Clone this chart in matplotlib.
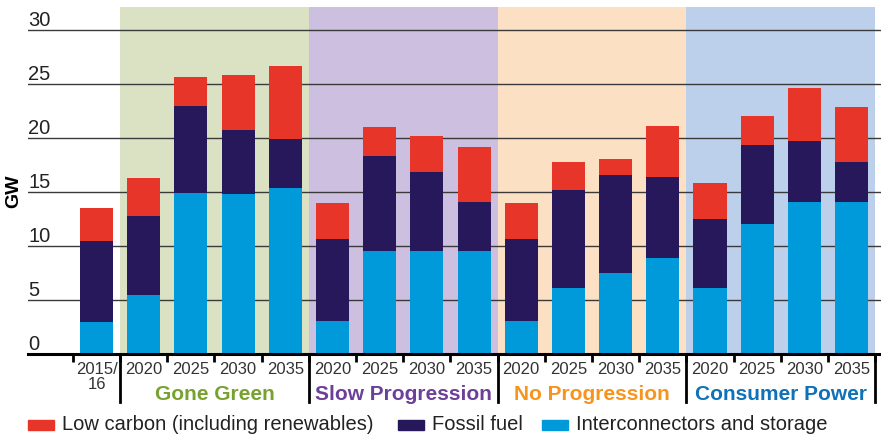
import matplotlib
matplotlib.use("Agg")
import matplotlib.pyplot as plt
import matplotlib.transforms as mtransforms
from matplotlib.patches import Rectangle
import numpy as np

plt.rcParams['font.family'] = ['Liberation Sans', 'DejaVu Sans']

# DATA
years = ['2015/\n16', '2020', '2025', '2030', '2035',
         '2020', '2025', '2030', '2035',
         '2020', '2025', '2030', '2035',
         '2020', '2025', '2030', '2035']
scenarios = ['Gone Green', 'Slow Progression', 'No Progression', 'Consumer Power']
scenario_colors = ['#78a22f', '#6c3f99', '#f7941d', '#0f71b8']
scenario_shades = ['#dbe1c3', '#cdbfe0', '#fce0c4', '#bcd0ec']

interconnectors = [3.0, 5.5, 14.9, 14.85, 15.4,
                   3.05, 9.55, 9.55, 9.55,
                   3.05, 6.1, 7.5, 8.9,
                   6.1, 12.05, 14.1, 14.1]
fossil = [7.5, 7.3, 8.05, 5.9, 4.5,
          7.6, 8.75, 7.3, 4.5,
          7.6, 9.1, 9.05, 7.5,
          6.4, 7.3, 5.6, 3.7]
low_carbon = [3.0, 3.5, 2.7, 5.1, 6.75,
              3.35, 2.7, 3.35, 5.1,
              3.35, 2.6, 1.5, 4.7,
              3.35, 2.7, 4.95, 5.05]

series_names = ['Low carbon (including renewables)', 'Fossil fuel', 'Interconnectors and storage']
series_colors = ['#e8352a', '#27175b', '#009ada']

yticks = [0, 5, 10, 15, 20, 25, 30]

# FIGURE
fig = plt.figure(figsize=(8.81, 4.38), dpi=100)
ax = fig.add_axes([28/881, 84/438, 853/881, 347/438])

x = np.arange(len(years))
ax.set_xlim(-1.452, 16.624)
ax.set_ylim(0, 32.13)

# scenario background blocks
for k in range(4):
    ax.axvspan(0.5 + 4*k, 4.5 + 4*k, color=scenario_shades[k], lw=0, zorder=0)

# gridlines
for v in yticks[1:]:
    ax.axhline(v, color='#3a3a3a', lw=1.0, zorder=1)

# stacked bars
ic = np.array(interconnectors)
ff = np.array(fossil)
lc = np.array(low_carbon)
w = 0.70
ax.bar(x, ic, w, color=series_colors[2], zorder=2)
ax.bar(x, ff, w, bottom=ic, color=series_colors[1], zorder=2)
ax.bar(x, lc, w, bottom=ic+ff, color=series_colors[0], zorder=2)

# spines
for s in ['top', 'right', 'left']:
    ax.spines[s].set_visible(False)
ax.spines['bottom'].set_linewidth(2.2)
ax.spines['bottom'].set_zorder(3)

# y labels sitting above gridlines
ax.set_yticks([])
off = mtransforms.offset_copy(ax.get_yaxis_transform(), fig=fig, x=0, y=4, units='dots')
for v in yticks:
    ax.text(0, v, str(v), transform=off, ha='left', va='baseline',
            fontsize=14.5, color='#222222')

ax.text(-0.007, 0.47, 'GW', transform=ax.transAxes, rotation=90, ha='right', va='center',
        fontsize=14, fontweight='bold')

# x ticks and labels
ax.set_xticks(x)
ax.set_xticklabels(years, fontsize=12, color='#333333', linespacing=0.95, va='top')
ax.tick_params(axis='x', which='major', length=0, pad=6)
ax.set_xticks(np.arange(-0.5, 16.6, 1.0), minor=True)
ax.tick_params(axis='x', which='minor', length=6, width=2, color='black')

# group boundaries and group names
trans = ax.get_xaxis_transform()
for b in [0.5, 4.5, 8.5, 12.5, 16.5]:
    ax.plot([b, b], [0, -0.137], transform=trans, color='black', lw=2, clip_on=False)
for k, name in enumerate(scenarios):
    ax.text(2.5 + 4*k, -0.118, name, transform=trans, ha='center', va='center',
            fontsize=15, fontweight='bold', color=scenario_colors[k])

# legend
leg_x = [28, 398, 542]
for name, col, lx in zip(series_names, series_colors, leg_x):
    fig.patches.append(Rectangle((lx/881, (438-430)/438), 26/881, 10/438,
                                 transform=fig.transFigure, color=col))
    fig.text((lx + 34)/881, (438-425)/438, name, ha='left', va='center',
             fontsize=14.5, color='#222222')

fig.savefig('out.png', dpi=100)
